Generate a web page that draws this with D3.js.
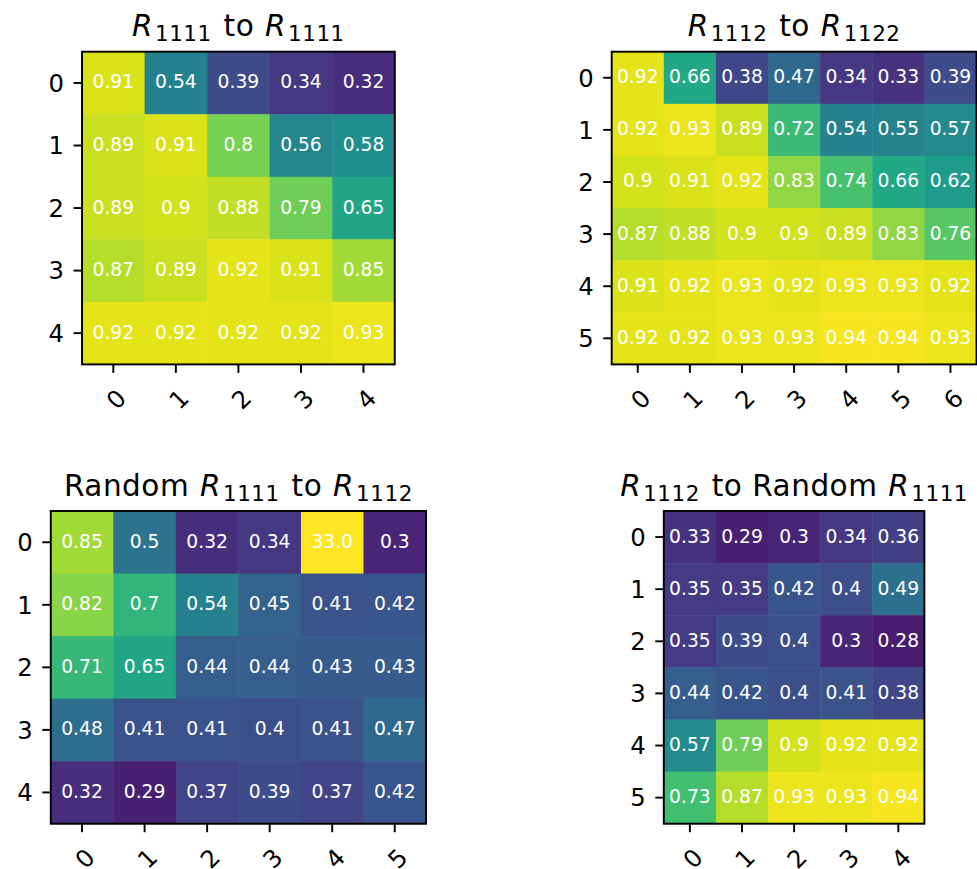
<!DOCTYPE html>
<html>
<head>
<meta charset="utf-8">
<title>Heatmaps</title>
<style>
  body { margin: 0; background: #fff; }
  text { font-family: "DejaVu Sans", sans-serif; }
  .tick line { stroke: #000; stroke-width: 1.94; }
  .tick text { font-size: 24.3px; fill: #000; }
  .cell-label { font-size: 18.7px; fill: #fff; text-anchor: middle; }
  .title { font-size: 29.5px; fill: #000; white-space: pre; letter-spacing: 0.5px; }
</style>
</head>
<body>
<script src="https://d3js.org/d3.v7.min.js"></script>
<script>

// data, one matrix per panel (rows x columns)
const titles = [
  "$R_{1111}$ to $R_{1111}$",
  "$R_{1112}$ to $R_{1122}$",
  "Random $R_{1111}$ to $R_{1112}$",
  "$R_{1112}$ to Random $R_{1111}$"
];

const r1111_r1111 = [
  [0.91, 0.54, 0.39, 0.34, 0.32],
  [0.89, 0.91, 0.8, 0.56, 0.58],
  [0.89, 0.9, 0.88, 0.79, 0.65],
  [0.87, 0.89, 0.92, 0.91, 0.85],
  [0.92, 0.92, 0.92, 0.92, 0.93]
];

const r1112_r1122 = [
  [0.92, 0.66, 0.38, 0.47, 0.34, 0.33, 0.39],
  [0.92, 0.93, 0.89, 0.72, 0.54, 0.55, 0.57],
  [0.9, 0.91, 0.92, 0.83, 0.74, 0.66, 0.62],
  [0.87, 0.88, 0.9, 0.9, 0.89, 0.83, 0.76],
  [0.91, 0.92, 0.93, 0.92, 0.93, 0.93, 0.92],
  [0.92, 0.92, 0.93, 0.93, 0.94, 0.94, 0.93]
];

const random1111_r1112 = [
  [0.85, 0.5, 0.32, 0.34, 33.0, 0.3],
  [0.82, 0.7, 0.54, 0.45, 0.41, 0.42],
  [0.71, 0.65, 0.44, 0.44, 0.43, 0.43],
  [0.48, 0.41, 0.41, 0.4, 0.41, 0.47],
  [0.32, 0.29, 0.37, 0.39, 0.37, 0.42]
];

const r1112_random1111 = [
  [0.33, 0.29, 0.3, 0.34, 0.36],
  [0.35, 0.35, 0.42, 0.4, 0.49],
  [0.35, 0.39, 0.4, 0.3, 0.28],
  [0.44, 0.42, 0.4, 0.41, 0.38],
  [0.57, 0.79, 0.9, 0.92, 0.92],
  [0.73, 0.87, 0.93, 0.93, 0.94]
];

const matrices = [r1111_r1111, r1112_r1122, random1111_r1112, r1112_random1111];

// layout
const width = 977, height = 869;
const centersX = [238.4, 794.1, 238.4, 794.1];
const tops = [51.7, 51.7, 511, 511];
const axH = 312.7;

const color = d3.scaleSequential(d3.interpolateViridis)
    .domain([0.225, 0.95])
    .clamp(true);

const fmt = v => v >= 10 ? v.toFixed(1) : String(v);

const svg = d3.select("body").append("svg")
    .attr("width", width)
    .attr("height", height);

matrices.forEach(function(m, i) {
  const nRows = m.length, nCols = m[0].length;
  const cell = axH / nRows;
  const axW = cell * nCols;
  const left = centersX[i] - axW / 2;
  const top = tops[i];

  const x = d3.scaleBand().domain(d3.range(nCols)).range([left, left + axW]);
  const y = d3.scaleBand().domain(d3.range(nRows)).range([top, top + axH]);

  const g = svg.append("g");

  const cells = [];
  m.forEach((row, r) => row.forEach((v, c) => cells.push({r: r, c: c, v: v})));

  g.selectAll("rect.cell")
      .data(cells)
    .enter().append("rect")
      .attr("class", "cell")
      .attr("x", d => x(d.c))
      .attr("y", d => y(d.r))
      .attr("width", x.bandwidth() + 0.5)
      .attr("height", y.bandwidth() + 0.5)
      .attr("fill", d => color(d.v));

  g.selectAll("text.cell-label")
      .data(cells)
    .enter().append("text")
      .attr("class", "cell-label")
      .attr("x", d => x(d.c) + x.bandwidth() / 2)
      .attr("y", d => y(d.r) + y.bandwidth() / 2 + 5.5)
      .text(d => fmt(d.v));

  // frame
  g.append("rect")
      .attr("x", left)
      .attr("y", top)
      .attr("width", axW)
      .attr("height", axH)
      .attr("fill", "none")
      .attr("stroke", "#000")
      .attr("stroke-width", 1.94);

  // y axis
  const ya = g.append("g")
      .attr("transform", "translate(" + left + ",0)")
      .call(d3.axisLeft(y).tickSize(8.5).tickPadding(9.5));
  ya.select(".domain").remove();
  ya.selectAll(".tick text")
      .attr("dy", "0.36em")
      .attr("font-family", null)
      .attr("font-size", null);

  // x axis, labels rotated 45 degrees
  const xa = g.append("g")
      .attr("transform", "translate(0," + (top + axH) + ")")
      .call(d3.axisBottom(x).tickSize(8.5));
  xa.select(".domain").remove();
  xa.selectAll(".tick text")
      .attr("y", 0)
      .attr("dy", "0.36em")
      .attr("text-anchor", "middle")
      .attr("transform", "translate(2.8,34.7) rotate(-45)")
      .attr("font-family", null)
      .attr("font-size", null);

  // title with mathtext-like subscripts
  const t = g.append("text")
      .attr("class", "title")
      .attr("x", centersX[i])
      .attr("y", top - 15.5)
      .attr("text-anchor", "middle");
  const parts = titles[i].split(/\$R_\{(\d+)\}\$/);
  parts.forEach(function(p, k) {
    if (k % 2 === 0) {
      if (p.length) t.append("tspan").attr("dy", k > 0 ? -5 : 0).attr("dx", k > 0 ? 2 : 0).text(p);
    } else {
      t.append("tspan").attr("font-style", "italic")
          .attr("dx", parts[k - 1].length ? 1 : 0)
          .text("R");
      t.append("tspan").attr("font-size", "21.5px").attr("dy", 5).attr("dx", 2).text(p);
    }
  });
});

</script>
</body>
</html>
